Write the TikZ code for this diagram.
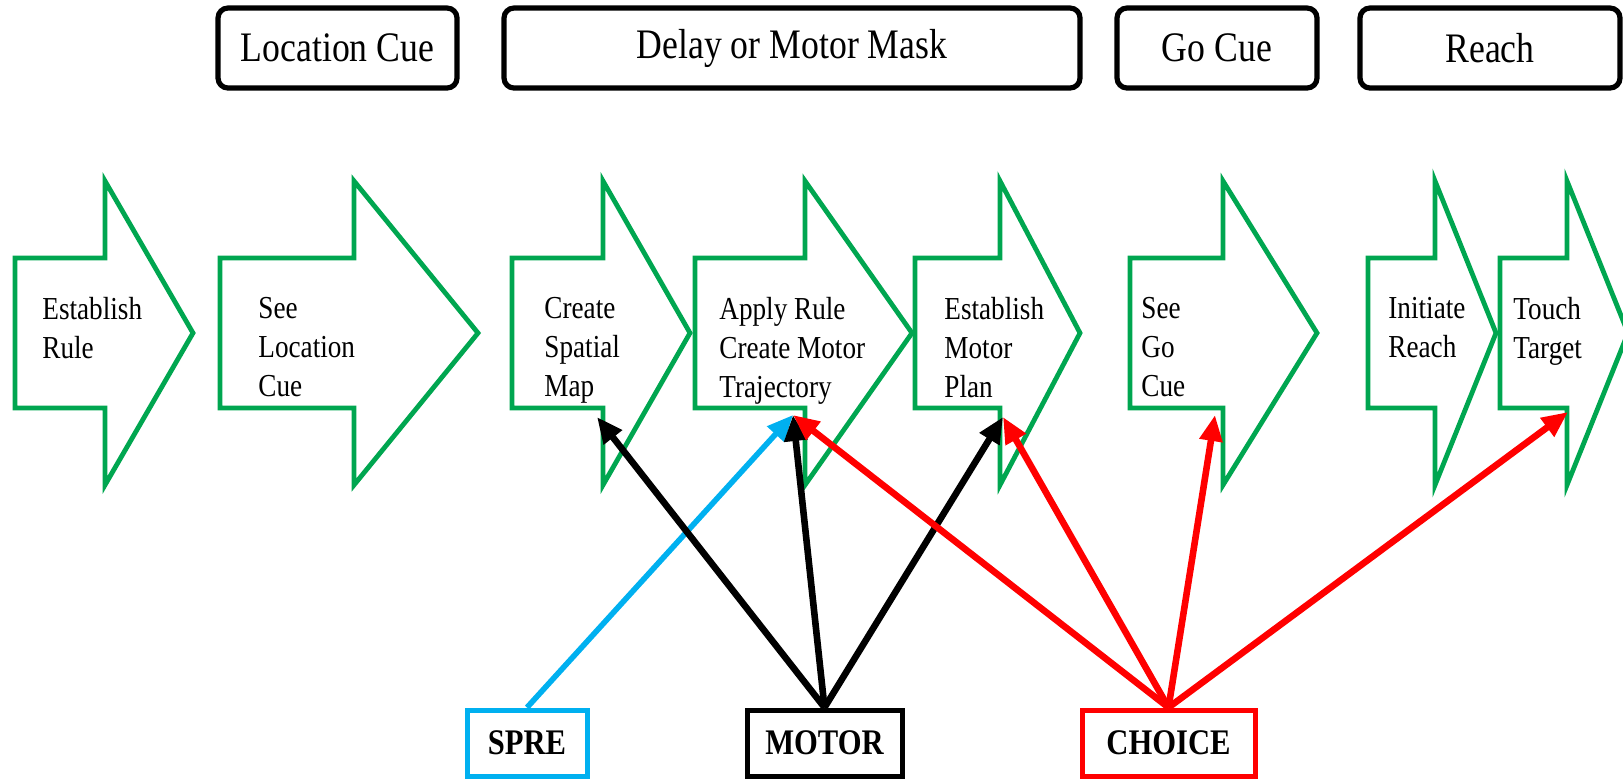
\documentclass[tikz,border=0pt]{standalone}
\usepackage{fontspec}
\setmainfont[FakeStretch=0.85]{Liberation Serif}
\usetikzlibrary{arrows.meta}
\definecolor{stagegreen}{RGB}{0,166,80}
\definecolor{sprecyan}{RGB}{0,176,240}
\definecolor{choicered}{RGB}{255,0,0}
\begin{document}
\begin{tikzpicture}[x=0.5pt,y=-0.5pt,
    phase/.style={draw, line width=2.6pt, rounded corners=5pt, minimum height=40pt, inner sep=0pt, font=\fontsize{21}{24}\selectfont},
    stage/.style={draw=stagegreen, line width=2.4pt},
    stagetext/.style={anchor=north west, align=left, inner sep=0pt, font=\fontsize{16}{19.5}\selectfont},
    source/.style={draw, line width=2.5pt, minimum height=33pt, inner sep=0pt, font=\bfseries\fontsize{18}{21}\selectfont},
    link/.style={line width=3.3pt, -{Triangle[length=13pt,width=11pt]}}]
   \useasboundingbox (0,0) rectangle (1623,778);
   % trial phases
   \node[phase, minimum width=119.5pt] (loccue) at (337.5,48) {Location Cue};
   \node[phase, minimum width=288pt] (delay) at (792,48) {Delay or Motor Mask};
   \node[phase, minimum width=100pt] (gocue) at (1217,48) {Go Cue};
   \node[phase, minimum width=130pt] (reach) at (1490,48) {Reach};
   % stages
   \draw[stage] (15,258) -- (105,258) -- (105,181) -- (193,333) -- (105,485) -- (105,408) -- (15,408) -- cycle;
   \node[stagetext] (rule) at (42,297) {Establish\\Rule};
   \draw[stage] (220,258) -- (354,258) -- (354,181) -- (478,333) -- (354,485) -- (354,408) -- (220,408) -- cycle;
   \node[stagetext] (seeloc) at (258,297) {See\\Location\\Cue};
   \draw[stage] (512,258) -- (603,258) -- (603,181) -- (690,333) -- (603,485) -- (603,408) -- (512,408) -- cycle;
   \node[stagetext] (map) at (544,297) {Create\\Spatial\\Map};
   \draw[stage] (695,258) -- (805,258) -- (805,181) -- (912,333) -- (805,485) -- (805,408) -- (695,408) -- cycle;
   \node[stagetext] (traj) at (719,297) {Apply Rule\\Create Motor\\Trajectory};
   \draw[stage] (915,258) -- (1000,258) -- (1000,181) -- (1080,333) -- (1000,485) -- (1000,408) -- (915,408) -- cycle;
   \node[stagetext] (plan) at (944,297) {Establish\\Motor\\Plan};
   \draw[stage] (1130,258) -- (1223,258) -- (1223,181) -- (1317,333) -- (1223,485) -- (1223,408) -- (1130,408) -- cycle;
   \node[stagetext] (seego) at (1141,297) {See\\Go\\Cue};
   \draw[stage] (1368,258) -- (1435,258) -- (1435,181) -- (1496,333) -- (1435,485) -- (1435,408) -- (1368,408) -- cycle;
   \node[stagetext] (init) at (1388,297) {Initiate\\Reach};
   \draw[stage] (1500,258) -- (1567,258) -- (1567,181) -- (1628,333) -- (1567,485) -- (1567,408) -- (1500,408) -- cycle;
   \node[stagetext] (touch) at (1513,297) {Touch\\Target};
   \coordinate (maptip) at (597,417);
   \coordinate (trajtip) at (793,415);
   \coordinate (plantip) at (1003,417);
   \coordinate (gotip) at (1215,415);
   \coordinate (touchtip) at (1568,412);
   % sources
   \node[source, draw=sprecyan, minimum width=60pt] (spre) at (527,743) {SPRE};
   \node[source, minimum width=77.5pt] (motor) at (824.5,743) {MOTOR};
   \node[source, draw=choicered, minimum width=86.5pt] (choice) at (1168.5,743) {CHOICE};
   \draw[link, sprecyan, line width=2.8pt] (spre.north) -- (trajtip);
   \draw[link] (motor.north) -- (maptip);
   \draw[link] (motor.north) -- (trajtip);
   \draw[link] (motor.north) -- (plantip);
   \draw[link, choicered] (choice.north) -- (trajtip);
   \draw[link, choicered] (choice.north) -- (plantip);
   \draw[link, choicered] (choice.north) -- (gotip);
   \draw[link, choicered] (choice.north) -- (touchtip);
 \end{tikzpicture}
\end{document}
